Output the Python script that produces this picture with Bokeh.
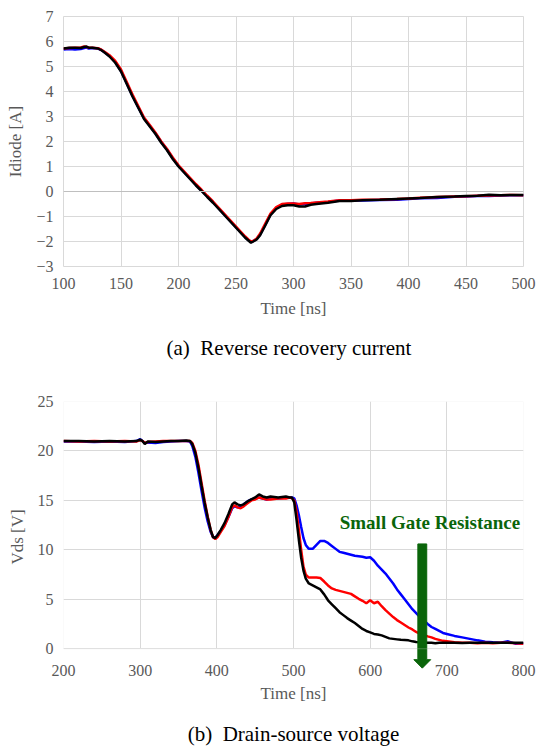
from bokeh.plotting import figure
from bokeh.layouts import column
from bokeh.models import Title, Span, Label, FixedTicker, BoxAnnotation, LinearAxis
from bokeh.embed import file_html
from bokeh.resources import INLINE

# ---------------- data: (a) reverse recovery current ----------------
t_a = [100, 105, 110, 115, 118, 120, 122, 125, 130, 133, 136, 140, 145, 150, 155, 160,
       165, 170, 175, 180, 185, 190, 195, 200, 205, 210, 215, 220, 225, 230, 235, 240,
       245, 250, 255, 258, 261, 263, 265, 268, 271, 275, 280, 285, 290, 295, 300, 305,
       310, 315, 320, 330, 340, 350, 360, 375, 390, 400, 410, 425, 440, 450, 460, 470,
       480, 490, 500]
i_blue = [5.68, 5.70, 5.68, 5.70, 5.74, 5.76, 5.72, 5.74, 5.72, 5.66, 5.56, 5.42, 5.18, 4.82,
          4.33, 3.82, 3.37, 2.93, 2.63, 2.32, 1.98, 1.68, 1.33, 1.02, 0.77, 0.52, 0.27, 0.04,
          -0.2, -0.43, -0.68, -0.93, -1.18, -1.43, -1.68, -1.83, -1.95, -2.02, -1.98, -1.9,
          -1.72, -1.37, -0.92, -0.66, -0.52, -0.5, -0.48, -0.52, -0.5, -0.48, -0.45, -0.42,
          -0.36, -0.36, -0.36, -0.34, -0.33, -0.3, -0.27, -0.26, -0.21, -0.2, -0.18, -0.18,
          -0.16, -0.15, -0.15]
i_red = [5.72, 5.74, 5.75, 5.76, 5.8, 5.78, 5.76, 5.75, 5.73, 5.67, 5.58, 5.45, 5.22, 4.88,
         4.38, 3.88, 3.42, 2.96, 2.66, 2.35, 2.0, 1.7, 1.36, 1.05, 0.8, 0.55, 0.3, 0.07,
         -0.17, -0.4, -0.65, -0.9, -1.15, -1.4, -1.65, -1.8, -1.93, -2.0, -1.98, -1.88,
         -1.68, -1.32, -0.88, -0.62, -0.5, -0.48, -0.48, -0.5, -0.47, -0.46, -0.44, -0.4,
         -0.35, -0.35, -0.33, -0.32, -0.3, -0.28, -0.25, -0.22, -0.2, -0.19, -0.17, -0.16,
         -0.15, -0.14, -0.15]
i_black = [5.72, 5.75, 5.75, 5.74, 5.78, 5.8, 5.75, 5.75, 5.72, 5.65, 5.55, 5.4, 5.15, 4.8,
           4.3, 3.8, 3.35, 2.9, 2.6, 2.3, 1.95, 1.65, 1.3, 1.0, 0.75, 0.5, 0.25, 0.02,
           -0.22, -0.45, -0.7, -0.95, -1.2, -1.45, -1.7, -1.85, -1.97, -2.05, -2.0, -1.92,
           -1.75, -1.4, -0.95, -0.7, -0.58, -0.55, -0.55, -0.6, -0.6, -0.53, -0.5, -0.45,
           -0.38, -0.38, -0.35, -0.33, -0.3, -0.28, -0.26, -0.22, -0.2, -0.18, -0.17, -0.13,
           -0.15, -0.14, -0.14]

# ---------------- data: (b) drain-source voltage ----------------
t_b = [200, 220, 240, 260, 280, 295, 300, 303, 306, 310, 320, 330, 340, 350, 360, 365, 368,
       372, 376, 380, 384, 388, 392, 395, 398, 401, 405, 410, 415, 420, 423, 427, 431, 435,
       440, 445, 450, 455, 460, 465, 470, 480, 490, 495, 498, 501, 504, 507, 510, 513, 516,
       520, 525, 530, 535, 540, 545, 550, 555, 560, 565, 570, 575, 580, 585, 590, 595, 600,
       605, 610, 615, 620, 625, 630, 635, 640, 645, 650, 655, 660, 665, 670, 675, 680, 685,
       690, 695, 700, 710, 720, 730, 740, 750, 760, 770, 780, 790, 800]
v_blue = [20.95, 20.95, 20.9, 20.95, 20.9, 21.0, 21.2, 21.0, 20.8, 20.85, 20.8, 20.9, 20.95,
          21.0, 21.0, 20.95, 20.5, 19.4, 17.8, 16.0, 14.3, 12.9, 11.8, 11.3, 11.2, 11.5, 11.9,
          12.5, 13.3, 14.2, 14.4, 14.3, 14.4, 14.6, 14.9, 15.1, 15.2, 15.3, 15.2, 15.1, 15.2,
          15.2, 15.3, 15.3, 15.3, 15.2, 14.5, 13.5, 12.3, 11.2, 10.5, 10.1, 10.1, 10.5, 10.9,
          10.9, 10.7, 10.4, 10.1, 9.8, 9.7, 9.6, 9.5, 9.4, 9.35, 9.3, 9.2, 9.25, 8.9, 8.4, 8.0,
          7.6, 7.1, 6.6, 6.0, 5.5, 5.0, 4.5, 4.0, 3.6, 3.2, 2.85, 2.5, 2.2, 2.0, 1.8, 1.6, 1.5,
          1.3, 1.15, 1.0, 0.85, 0.72, 0.65, 0.6, 0.75, 0.5, 0.55]
v_red = [21.0, 20.95, 21.0, 20.95, 21.0, 20.95, 21.1, 21.0, 20.8, 20.9, 20.95, 21.0, 21.0,
         21.0, 21.0, 21.0, 20.8, 20.0, 18.6, 16.8, 15.0, 13.4, 12.0, 11.3, 11.1, 11.3, 11.8,
         12.4, 13.3, 14.3, 14.5, 14.3, 14.2, 14.4, 14.7, 15.0, 15.1, 15.3, 15.2, 15.1, 15.1,
         15.2, 15.2, 15.3, 15.2, 15.0, 13.8, 12.0, 10.0, 8.3, 7.5, 7.2, 7.2, 7.2, 7.15, 6.8,
         6.4, 6.1, 5.95, 5.85, 5.75, 5.65, 5.55, 5.3, 5.05, 4.85, 4.6, 4.9, 4.6, 4.75, 4.3,
         3.9, 3.55, 3.2, 2.9, 2.65, 2.4, 2.15, 1.95, 1.7, 1.5, 1.4, 1.25, 1.15, 1.0, 0.9, 0.8,
         0.75, 0.65, 0.62, 0.6, 0.55, 0.6, 0.55, 0.6, 0.6, 0.55, 0.5]
v_black = [21.0, 21.0, 20.95, 21.0, 20.95, 21.0, 21.15, 21.0, 20.7, 20.95, 20.9, 20.95, 21.0,
           21.0, 21.05, 21.0, 20.7, 19.8, 18.3, 16.5, 14.8, 13.3, 12.0, 11.3, 11.2, 11.5, 12.0,
           12.7, 13.6, 14.6, 14.8, 14.6, 14.5, 14.6, 14.9, 15.1, 15.3, 15.6, 15.4, 15.3, 15.4,
           15.3, 15.4, 15.3, 15.3, 14.8, 13.0, 11.0, 9.2, 7.9, 7.1, 6.6, 6.4, 6.2, 6.0, 5.5,
           4.9, 4.5, 4.1, 3.7, 3.4, 3.1, 2.85, 2.6, 2.3, 2.0, 1.8, 1.65, 1.5, 1.45, 1.35, 1.2,
           1.05, 1.0, 0.95, 0.9, 0.88, 0.85, 0.75, 0.68, 0.65, 0.6, 0.62, 0.6, 0.55, 0.6, 0.62,
           0.6, 0.6, 0.58, 0.62, 0.6, 0.6, 0.62, 0.6, 0.6, 0.6, 0.6]

x_ticks_a = [100, 150, 200, 250, 300, 350, 400, 450, 500]
y_ticks_a = [-3, -2, -1, 0, 1, 2, 3, 4, 5, 6, 7]
x_ticks_b = [200, 300, 400, 500, 600, 700, 800]
y_ticks_b = [0, 5, 10, 15, 20, 25]

caption_a = "(a)\u00a0 Reverse recovery current"
caption_b = "(b)\u00a0 Drain-source voltage"
note_text = "Small Gate Resistance"
# arrow outline (time in ns, voltage in V); its head reaches below the time axis
arrow_xs = [662.2, 673.8, 673.8, 679.0, 668.0, 657.0, 662.2]
arrow_ys = [10.6, 10.6, -1.1, -1.1, -1.96, -1.1, -1.1]
note_x = 678
note_y = 12.8

FONT = "Liberation Serif"
GRAY = "#595959"
GRID = "#d9d9d9"
LW = 2.5


def style(p, xt, yt, xlabel, ylabel):
    p.xaxis.ticker = FixedTicker(ticks=xt)
    p.yaxis.ticker = FixedTicker(ticks=yt)
    for ax in (p.xaxis[0], p.yaxis[0]):
        ax.axis_line_color = None
        ax.major_tick_line_color = None
        ax.minor_tick_line_color = None
        ax.major_tick_out = 0
        ax.major_tick_in = 0
        ax.major_label_text_font = FONT
        ax.major_label_text_font_size = "16px"
        ax.major_label_text_color = GRAY
        ax.axis_label_text_font = FONT
        ax.axis_label_text_font_size = "17px"
        ax.axis_label_text_font_style = "normal"
        ax.axis_label_text_color = GRAY
    p.xaxis.axis_label = xlabel
    p.yaxis.axis_label = ylabel
    p.xaxis.major_label_standoff = 11
    p.xaxis.axis_label_standoff = 7
    p.yaxis.major_label_standoff = 10
    p.yaxis.axis_label_standoff = 8
    p.xgrid.grid_line_color = GRID
    p.ygrid.grid_line_color = GRID
    p.xgrid.ticker = FixedTicker(ticks=xt)
    p.ygrid.ticker = FixedTicker(ticks=yt)
    p.outline_line_color = GRID
    p.background_fill_color = "white"
    p.border_fill_color = "white"


# ---------------- figure (a) ----------------
p1 = figure(width=537, height=377, x_range=(100, 500), y_range=(-3, 7),
            output_backend="svg", toolbar_location=None,
            min_border_left=63, min_border_right=14, min_border_top=16, min_border_bottom=111)
style(p1, x_ticks_a, y_ticks_a, "Time [ns]", "Idiode [A]")
p1.add_layout(Span(location=0, dimension="width", line_color="#bfbfbf", line_width=1))
p1.line(t_a, i_blue, line_color="blue", line_width=LW)
p1.line(t_a, i_red, line_color="red", line_width=LW)
p1.line(t_a, i_black, line_color="black", line_width=LW)
p1.add_layout(Title(text=caption_a, align="left", offset=103, text_font=FONT,
                    text_font_size="21px", text_font_style="normal", text_color="black",
                    standoff=27), "below")

# ---------------- figure (b) ----------------
xb0, xb1 = 200, 800
yb0, yb1 = 0, 25
yb_ext = -2.4   # frame extends below the axis so that the arrow head can be drawn
p2 = figure(width=537, height=376, x_range=(xb0, xb1), y_range=(yb_ext, yb1),
            output_backend="svg", toolbar_location=None,
            min_border_left=61, min_border_right=14, min_border_top=24, min_border_bottom=81)
style(p2, x_ticks_b, y_ticks_b, "Time [ns]", "Vds [V]")
p2.outline_line_color = None
p2.yaxis.bounds = (yb0, yb1)
p2.xaxis.major_label_standoff = -8
p2.xaxis.axis_label_standoff = 5
# white mask below the time axis
p2.quad(left=xb0, right=xb1, bottom=yb_ext, top=yb0, fill_color="white", line_color=None)
p2.line(t_b, v_blue, line_color="blue", line_width=LW)
p2.line(t_b, v_red, line_color="red", line_width=LW)
p2.line(t_b, v_black, line_color="black", line_width=LW)
p2.add_layout(BoxAnnotation(left=xb0, right=xb1, bottom=yb0, top=yb1, fill_alpha=0,
                            line_color=GRID, line_width=1))
GREEN = "#0a650a"
p2.patch(arrow_xs, arrow_ys, fill_color=GREEN, line_color=GREEN, line_width=1)
p2.add_layout(Label(x=note_x, y=note_y, text=note_text, text_align="center",
                    text_baseline="middle", text_font=FONT, text_font_size="19px",
                    text_font_style="bold", text_color=GREEN))
# caption (b) drawn as the label of a second, otherwise invisible, time axis
cap_axis = LinearAxis(axis_label=caption_b, ticker=FixedTicker(ticks=[]),
                      bounds=(xb0, 776.6))
cap_axis.axis_line_color = None
cap_axis.major_tick_line_color = None
cap_axis.minor_tick_line_color = None
cap_axis.major_tick_out = 0
cap_axis.major_tick_in = 0
cap_axis.major_label_standoff = 0
cap_axis.axis_label_standoff = 16
cap_axis.axis_label_text_font = FONT
cap_axis.axis_label_text_font_size = "21px"
cap_axis.axis_label_text_font_style = "normal"
cap_axis.axis_label_text_color = "black"
p2.add_layout(cap_axis, "below")

layout = column(p1, p2, spacing=0)
open("out.html", "w").write(file_html(layout, INLINE))
